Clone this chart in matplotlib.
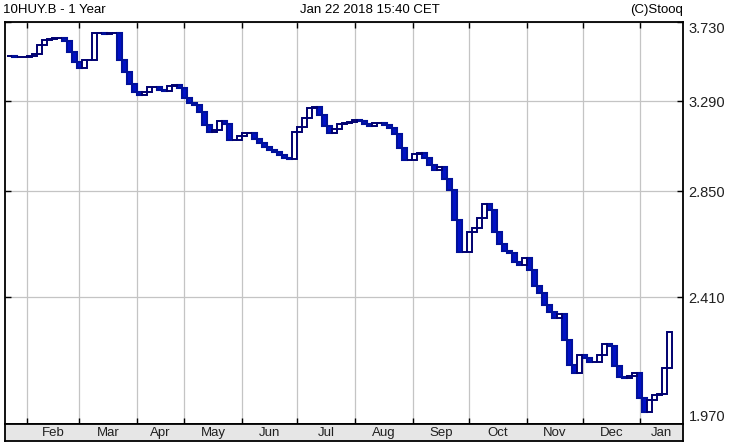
import numpy as np
import matplotlib
matplotlib.use("Agg")
import matplotlib.pyplot as plt
from matplotlib.ticker import FixedLocator, NullLocator, NullFormatter

plt.rcParams['font.family'] = ['Liberation Sans', 'DejaVu Sans']

# closing prices, one value per step (about 1.5 trading days each)
prices = [
    3.534, 3.528, 3.528, 3.528, 3.534, 3.545, 3.596, 3.625, 3.631, 3.636,
    3.636, 3.619, 3.557, 3.501, 3.467, 3.512, 3.512, 3.665, 3.665, 3.660,
    3.665, 3.665, 3.512, 3.445, 3.380, 3.338, 3.322, 3.338, 3.364, 3.364,
    3.348, 3.343, 3.370, 3.375, 3.359, 3.306, 3.280, 3.270, 3.233, 3.167,
    3.132, 3.142, 3.188, 3.172, 3.093, 3.093, 3.113, 3.127, 3.127, 3.098,
    3.078, 3.059, 3.044, 3.035, 3.020, 3.006, 3.001, 3.132, 3.157, 3.203,
    3.254, 3.259, 3.218, 3.162, 3.127, 3.147, 3.172, 3.177, 3.183, 3.193,
    3.188, 3.172, 3.162, 3.177, 3.177, 3.167, 3.152, 3.122, 3.054, 2.996,
    2.996, 3.025, 3.030, 3.006, 2.973, 2.949, 2.963, 2.907, 2.857, 2.724,
    2.589, 2.589, 2.673, 2.690, 2.733, 2.794, 2.768, 2.673, 2.622, 2.593,
    2.585, 2.548, 2.536, 2.565, 2.516, 2.453, 2.426, 2.380, 2.354, 2.332,
    2.347, 2.252, 2.164, 2.137, 2.199, 2.188, 2.174, 2.174, 2.199, 2.237,
    2.230, 2.161, 2.123, 2.120, 2.127, 2.137, 2.054, 2.008, 2.047, 2.063,
    2.067, 2.154, 2.280,
]

# month boundaries in step units
month_starts = [4.0, 14.4, 26.0, 35.4, 47.0, 58.0, 69.6, 81.2, 92.4, 104.0, 115.2, 126.6]
month_names = ["Feb", "Mar", "Apr", "May", "Jun", "Jul", "Aug", "Sep", "Oct", "Nov", "Dec", "Jan"]
x_end = 135.2

y_levels = [1.970, 2.410, 2.850, 3.290, 3.730]

fig = plt.figure(figsize=(7.30, 4.44), dpi=100)
ax = fig.add_axes([5 / 730, 20 / 444, 678 / 730, 402 / 444])
strip = fig.add_axes([5 / 730, 3 / 444, 678 / 730, 17 / 444])

# stooq style stairs: down steps filled, up steps hollow
p = np.array(prices)
prev = np.concatenate([[p[0]], p[:-1]])
x = np.arange(len(p))
down = p < prev
lo = np.minimum(p, prev)
hi = np.maximum(p, prev)
ax.bar(x[down], hi[down] - lo[down], bottom=lo[down], width=1, align='edge',
       color='#0010c8', edgecolor='#00109a', linewidth=1.5, zorder=3)
ax.bar(x[~down], hi[~down] - lo[~down], bottom=lo[~down], width=1, align='edge',
       color='white', edgecolor='#000070', linewidth=1.4, zorder=3)

ax.set_yscale('log')
ax.set_ylim(y_levels[0], y_levels[-1])
ax.set_xlim(-0.4, x_end)

ax.yaxis.set_major_locator(FixedLocator(y_levels))
ax.yaxis.set_minor_locator(NullLocator())
ax.yaxis.set_minor_formatter(NullFormatter())
ax.set_yticklabels([f"{v:.3f}" for v in y_levels])
ax.yaxis.tick_right()
ax.tick_params(axis='y', which='both', direction='in', length=4, width=1,
               left=True, right=True, labelsize=10.5, pad=4, labelcolor='#202020')
labels = ax.get_yticklabels()
labels[0].set_va('bottom')
labels[-1].set_va('top')

ax.xaxis.set_major_locator(FixedLocator(month_starts))
ax.set_xticklabels([])
ax.tick_params(axis='x', direction='in', length=4, width=1, top=True, bottom=True)

ax.grid(True, color='#c4c4c4', linewidth=0.9, zorder=0)
ax.set_axisbelow(True)
for s in ax.spines.values():
    s.set_linewidth(1.3)
    s.set_color('black')

# month label strip
strip.set_facecolor('#e6e6e6')
strip.set_xlim(-0.4, x_end)
strip.set_ylim(0, 1)
strip.set_xticks([])
strip.set_yticks([])
for s in strip.spines.values():
    s.set_linewidth(1.3)
edges = month_starts + [x_end]
for i, name in enumerate(month_names):
    strip.text((edges[i] + edges[i + 1]) / 2, 0.45, name, ha='center', va='center',
               fontsize=9.5, color='#202020')

fig.text(3 / 730, 1 - 10 / 444, "10HUY.B - 1 Year", ha='left', va='center', fontsize=9.5)
fig.text(370 / 730, 1 - 10 / 444, "Jan 22 2018 15:40 CET", ha='center', va='center', fontsize=9.5)
fig.text(683 / 730, 1 - 10 / 444, "(C)Stooq", ha='right', va='center', fontsize=9.5)

fig.savefig("out.png", dpi=100)
